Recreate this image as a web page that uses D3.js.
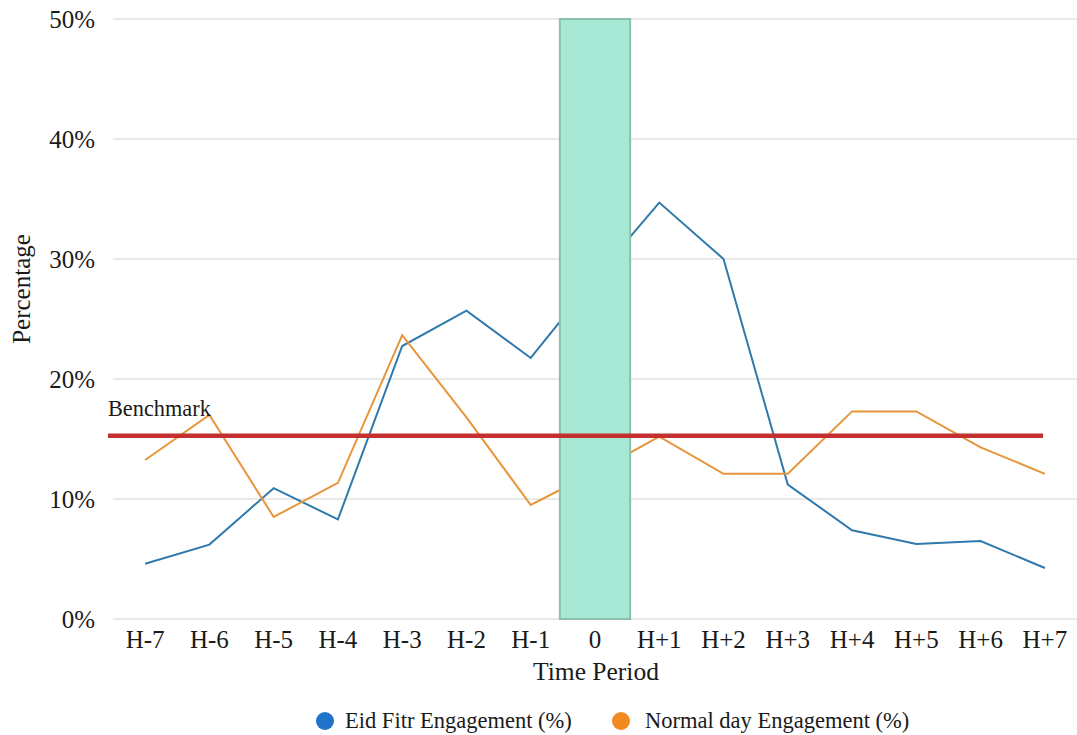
<!DOCTYPE html>
<html>
<head>
<meta charset="utf-8">
<script src="https://cdn.jsdelivr.net/npm/d3@7/dist/d3.min.js"></script>
<style>
  html, body { margin: 0; padding: 0; background: #fff; }
  svg text { font-family: "Liberation Serif", "Times New Roman", serif; fill: #1a1a1a; }
</style>
</head>
<body>
<svg id="chart" width="1077" height="735"></svg>
<script>
const categories = ["H-7","H-6","H-5","H-4","H-3","H-2","H-1","0","H+1","H+2","H+3","H+4","H+5","H+6","H+7"];
const eidValues    = [4.6, 6.2, 10.9, 8.3, 22.75, 25.7, 21.75, 28.4, 34.7, 30.0, 11.2, 7.4, 6.25, 6.5, 4.25];
const normalValues = [13.25, 17.0, 8.5, 11.35, 23.65, 16.8, 9.5, 12.25, 15.2, 12.1, 12.1, 17.3, 17.3, 14.3, 12.1];
const yTicks = [0, 10, 20, 30, 40, 50];
const benchmark = 15.27;
const highlightCategory = "0";
const seriesNames = ["Eid Fitr Engagement (%)", "Normal day Engagement (%)"];

const svg = d3.select("#chart");
const plotLeft = 113, plotRight = 1077, plotTop = 19, plotBottom = 619;

const x = d3.scaleBand().domain(categories).range([plotLeft, plotRight]).padding(0);
const y = d3.scaleLinear().domain([0, 50]).range([plotBottom, plotTop]);
const cx = d => x(d) + x.bandwidth() / 2;

// gridlines
svg.append("g").selectAll("line").data(yTicks).join("line")
  .attr("x1", plotLeft).attr("x2", plotRight)
  .attr("y1", d => y(d)).attr("y2", d => y(d))
  .attr("stroke", "#e2e2e2").attr("stroke-width", 1.5);

// y tick labels
svg.append("g").selectAll("text").data(yTicks).join("text")
  .attr("x", 95).attr("y", d => y(d)).attr("dy", "0.34em")
  .attr("text-anchor", "end").attr("font-size", 25)
  .text(d => d + "%");

// x tick labels
svg.append("g").selectAll("text").data(categories).join("text")
  .attr("x", d => cx(d)).attr("y", 648)
  .attr("text-anchor", "middle").attr("font-size", 25)
  .text(d => d);

// lines
const line = d3.line().x((d, i) => cx(categories[i])).y(d => y(d));
svg.append("path").datum(eidValues)
  .attr("d", line).attr("fill", "none")
  .attr("stroke", "#2f7aab").attr("stroke-width", 2);
svg.append("path").datum(normalValues)
  .attr("d", line).attr("fill", "none")
  .attr("stroke", "#e7953b").attr("stroke-width", 2);

// highlight band
svg.append("rect")
  .attr("x", x(highlightCategory) - 3)
  .attr("width", x.bandwidth() + 6)
  .attr("y", y(50))
  .attr("height", y(0) - y(50))
  .attr("fill", "#a6e8d3")
  .attr("stroke", "#8dbfae").attr("stroke-width", 2);

// benchmark
svg.append("line")
  .attr("x1", 108).attr("x2", 1043)
  .attr("y1", y(benchmark)).attr("y2", y(benchmark))
  .attr("stroke", "#c4302f").attr("stroke-width", 4.5);
svg.append("text")
  .attr("x", 108).attr("y", 416).attr("font-size", 22.3)
  .text("Benchmark");

// axis titles
svg.append("text")
  .attr("x", 596).attr("y", 680)
  .attr("text-anchor", "middle").attr("font-size", 25.5)
  .text("Time Period");
svg.append("text")
  .attr("transform", "translate(30,289) rotate(-90)")
  .attr("text-anchor", "middle").attr("font-size", 25)
  .text("Percentage");

// legend
const legendItems = [
  { name: seriesNames[0], color: "#1f74c9", cx: 325, tx: 345 },
  { name: seriesNames[1], color: "#f28a1f", cx: 621, tx: 645 }
];
const lg = svg.append("g");
lg.selectAll("circle").data(legendItems).join("circle")
  .attr("cx", d => d.cx).attr("cy", 721).attr("r", 9)
  .attr("fill", d => d.color);
lg.selectAll("text").data(legendItems).join("text")
  .attr("x", d => d.tx).attr("y", 728).attr("font-size", 22.5)
  .text(d => d.name);
</script>
</body>
</html>
